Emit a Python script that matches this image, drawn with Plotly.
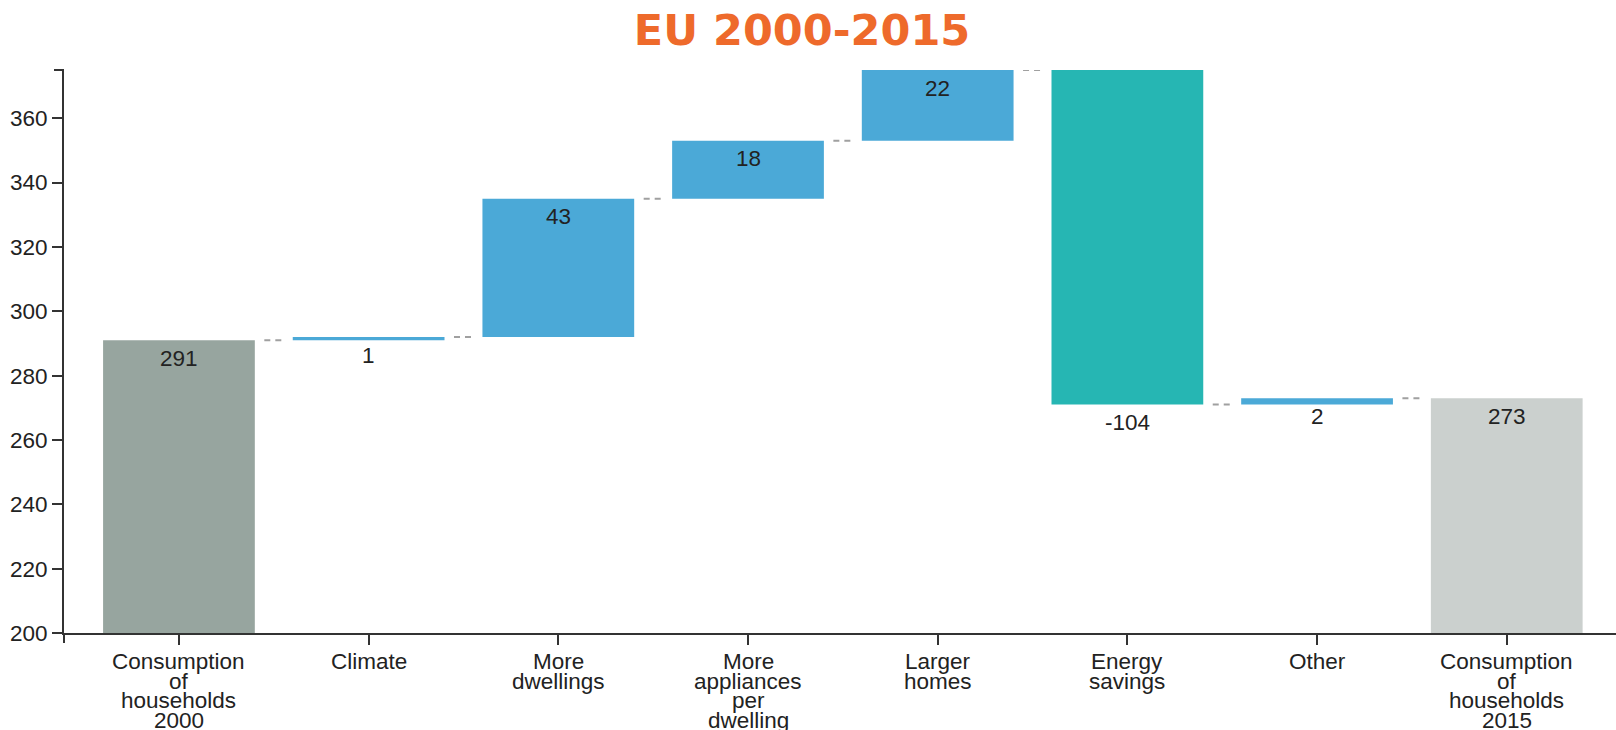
import plotly.graph_objects as go

# Household energy consumption bridge, EU 2000-2015
categories = [
    "Consumption<br>of<br>households<br>2000",
    "Climate",
    "More<br>dwellings",
    "More<br>appliances<br>per<br>dwelling",
    "Larger<br>homes",
    "Energy<br>savings",
    "Other",
    "Consumption<br>of<br>households<br>2015",
]
measures = ["absolute", "relative", "relative", "relative", "relative", "relative", "relative", "total"]
values = [291, 1, 43, 18, 22, -104, 2, 273]
y_ticks = [200, 220, 240, 260, 280, 300, 320, 340, 360]

bar_colors = ["#97a59f", "#4ba9d7", "#4ba9d7", "#4ba9d7", "#4ba9d7", "#26b6b3", "#4ba9d7", "#cbd0ce"]
FONT = "Liberation Sans, Arial, sans-serif"
TEXT = "#222222"
AXIS = "#333333"

# Running totals: each bar spans base -> base + height, ending at `ends[i]`
bases, heights, ends = [], [], []
total = 0
for m, v in zip(measures, values):
    if m == "absolute":
        base, h = 0, v
        total = v
    elif m == "relative":
        base, h = total, v
        total += v
    else:  # total
        base, h = 0, v
    bases.append(base)
    heights.append(h)
    ends.append(base + h)

idx = list(range(len(categories)))
BAR_W = 0.8

fig = go.Figure(
    go.Bar(
        x=idx,
        y=heights,
        base=bases,
        width=BAR_W,
        marker=dict(color=bar_colors, line=dict(width=0)),
        hoverinfo="skip",
    )
)

shapes = []
# dashed connectors between consecutive bars at the running level
for i in range(len(categories) - 1):
    level = ends[i]
    shapes.append(dict(
        type="line", xref="x", yref="y",
        x0=i + 0.45, x1=i + 0.55, y0=level, y1=level,
        line=dict(color="#a0a0a0", width=2, dash="6px,5px"),
        layer="above",
    ))
# outer ticks at the axis ends
shapes.append(dict(type="line", xref="paper", yref="paper", xsizemode="pixel", xanchor=0,
                   x0=-10, x1=0, y0=1, y1=1, line=dict(color=AXIS, width=2)))
shapes.append(dict(type="line", xref="paper", yref="paper", ysizemode="pixel", yanchor=0,
                   x0=0, x1=0, y0=-10, y1=0, line=dict(color=AXIS, width=2)))

annotations = []
# value labels, placed just below the level each bar ends on
for i, v in enumerate(values):
    annotations.append(dict(
        x=i, y=ends[i], xref="x", yref="y", text=str(v), showarrow=False,
        yanchor="middle", yshift=-18,
        font=dict(family=FONT, size=22.5, color=TEXT),
    ))
# multi-line category labels with tight line spacing
for i, cat in enumerate(categories):
    for j, line in enumerate(cat.split("<br>")):
        annotations.append(dict(
            x=i, y=0, xref="x", yref="paper", text=line, showarrow=False,
            yanchor="middle", yshift=-(28.5 + j * 19.7),
            font=dict(family=FONT, size=22.5, color=TEXT),
        ))

fig.update_layout(
    width=1616,
    height=730,
    autosize=False,
    margin=dict(l=64, r=0, t=70, b=97),
    paper_bgcolor="white",
    plot_bgcolor="white",
    showlegend=False,
    title=dict(
        text="EU 2000-2015",
        x=802 / 1616, xref="container", xanchor="center",
        y=1 - 30 / 730, yref="container", yanchor="middle",
        font=dict(family="DejaVu Sans, Verdana, sans-serif", size=43, color="#ee6a2b", weight="bold"),
    ),
    xaxis=dict(
        range=[-0.606, 7.576],
        tickvals=idx,
        showticklabels=False,
        ticks="outside", ticklen=10, tickwidth=2, tickcolor=AXIS,
        showline=True, linecolor=AXIS, linewidth=2,
        showgrid=False, zeroline=False,
    ),
    yaxis=dict(
        range=[200, 375],
        tickvals=y_ticks,
        ticks="outside", ticklen=10, tickwidth=2, tickcolor=AXIS,
        showline=True, linecolor=AXIS, linewidth=2,
        showgrid=False, zeroline=False,
        tickfont=dict(family=FONT, size=22.5, color=TEXT),
    ),
    shapes=shapes,
    annotations=annotations,
)

fig.write_html("out.html")
